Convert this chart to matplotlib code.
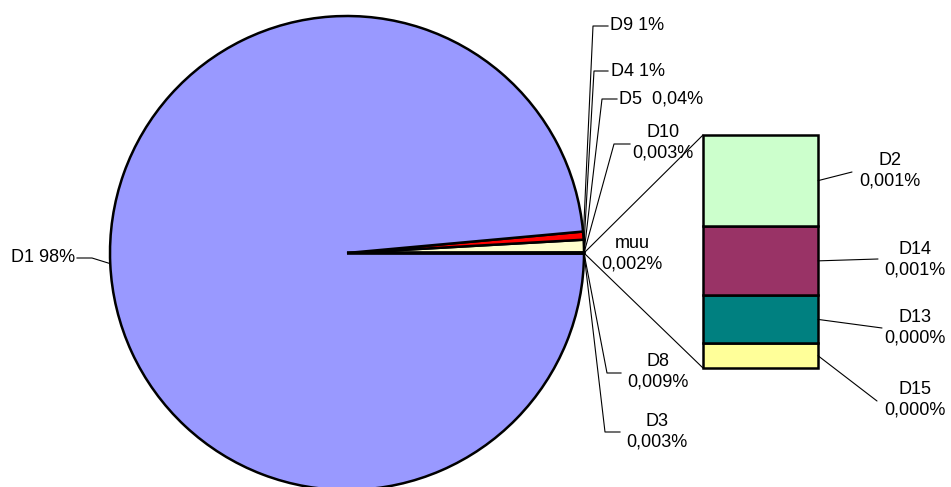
import numpy as np
import matplotlib
matplotlib.use("Agg")
import matplotlib.pyplot as plt
from matplotlib.patches import ConnectionPatch

plt.rcParams['font.family'] = ['Liberation Sans', 'DejaVu Sans']

# ---- data ----
pie_names = ['muu', 'D10', 'D5', 'D4', 'D9', 'D1', 'D3', 'D8']
pie_values = [0.002, 0.003, 0.04, 0.85, 0.55, 98.55, 0.003, 0.009]
pie_texts = ['muu\n0,002%', 'D10\n0,003%', 'D5  0,04%', 'D4 1%', 'D9 1%',
             'D1 98%', 'D3\n0,003%', 'D8\n0,009%']
pie_colors = ['#CCFFFF', '#660066', '#FF8080', '#FFFFCC', '#FF0000',
              '#9999FF', '#0066CC', '#CCCCFF']

bar_names = ['D2', 'D14', 'D13', 'D15']
bar_values = [0.00078, 0.00059, 0.00041, 0.00021]
bar_texts = ['D2\n0,001%', 'D14\n0,001%', 'D13\n0,000%', 'D15\n0,000%']
bar_colors = ['#CCFFCC', '#993366', '#008080', '#FFFF99']

# ---- layout (pixel coordinates, y measured from top) ----
W, H = 951, 487
PIE_C = (347, 253)
PIE_R = 237
BAR_BOX = (703, 135, 818, 368)  # left, top, right, bottom

# label placement: name -> (text x, text y, ha, elbow, line end)
pie_label_pos = {
    'D9':  ((610, 26), 'left', (593, 26), (608, 26)),
    'D4':  ((611, 71), 'left', (594, 71), (608, 71)),
    'D5':  ((619, 99), 'left', (602, 99), (617, 99)),
    'D10': ((663, 143), 'center', (614, 144), (630, 144)),
    'muu': ((632, 254), 'center', None, None),
    'D8':  ((658, 372), 'center', (607, 373), (621, 373)),
    'D3':  ((657, 432), 'center', (605, 432), (620, 432)),
    'D1':  ((75, 258), 'right', (92, 258), (77, 258)),
}
bar_label_pos = {
    'D2':  ((890, 171), (852, 172)),
    'D14': ((915, 260), (878, 259)),
    'D13': ((915, 328), (882, 328)),
    'D15': ((915, 400), (877, 401)),
}

FS = 13
LEAD = dict(color='black', lw=0.8)


def fy(y):
    return H - y


fig = plt.figure(figsize=(W / 100, H / 100), dpi=100)
ax = fig.add_axes([0, 0, 1, 1])

total = sum(pie_values)
start = -pie_values[0] / total * 360 / 2
wedges, _ = ax.pie(pie_values, colors=pie_colors, startangle=start,
                   counterclock=True, center=(PIE_C[0], fy(PIE_C[1])),
                   radius=PIE_R,
                   wedgeprops=dict(edgecolor='black', linewidth=1.8))
ax.set_xlim(0, W)
ax.set_ylim(0, H)
ax.set_aspect('equal')
ax.axis('off')

cx, cy = PIE_C[0], fy(PIE_C[1])
for w, name, txt in zip(wedges, pie_names, pie_texts):
    (tx, ty), ha, elbow, end = pie_label_pos[name]
    ax.text(tx, fy(ty), txt, ha=ha, va='center', fontsize=FS,
            multialignment='center', linespacing=1.25)
    if elbow is None:
        continue
    mid = np.deg2rad((w.theta1 + w.theta2) / 2)
    rx, ry = cx + PIE_R * np.cos(mid), cy + PIE_R * np.sin(mid)
    ax.plot([rx, elbow[0], end[0]], [ry, fy(elbow[1]), fy(end[1])], **LEAD)

# ---- bar of pie ----
l, t, r, b = BAR_BOX
bax = fig.add_axes([l / W, (H - b) / H, (r - l) / W, (b - t) / H])
bsum = sum(bar_values)
bax.set_xlim(-0.5, 0.5)
bax.set_ylim(0, bsum)
bax.axis('off')
bottom = 0.0
mids = {}
for name, v, c in reversed(list(zip(bar_names, bar_values, bar_colors))):
    bax.bar(0, v, width=1.0, bottom=bottom, color=c, edgecolor='black',
            linewidth=1.8, clip_on=False)
    mids[name] = bottom + v / 2
    bottom += v

for name, txt in zip(bar_names, bar_texts):
    (tx, ty), end = bar_label_pos[name]
    ax.text(tx, fy(ty), txt, ha='center', va='center', fontsize=FS,
            multialignment='center', linespacing=1.25)
    con = ConnectionPatch(xyA=(0.5, mids[name]), coordsA=bax.transData,
                          xyB=(end[0], fy(end[1])), coordsB=ax.transData,
                          **LEAD)
    fig.add_artist(con)

# connector lines from the "muu" slice to the bar
w0 = wedges[0]
for ang, yb in ((w0.theta2, bsum), (w0.theta1, 0)):
    a = np.deg2rad(ang)
    px, py = cx + PIE_R * np.cos(a), cy + PIE_R * np.sin(a)
    con = ConnectionPatch(xyA=(px, py), coordsA=ax.transData,
                          xyB=(-0.5, yb), coordsB=bax.transData,
                          color='black', lw=0.8)
    fig.add_artist(con)

fig.savefig('out.png', dpi=100)
